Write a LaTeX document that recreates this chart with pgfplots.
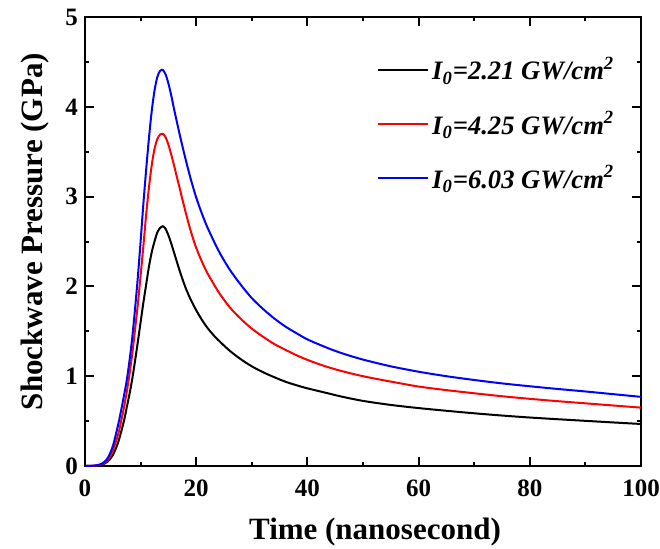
\documentclass[border=0pt]{standalone}
\usepackage{fontspec}
\setmainfont{Liberation Serif}
\usepackage{pgfplots}
\pgfplotsset{compat=1.18}
\begin{document}
\begin{tikzpicture}
\useasboundingbox (-42.5pt,-41pt) rectangle (287.5pt,233pt);
\begin{axis}[
  scale only axis,
  width=278pt, height=224.5pt,
  xmin=0, xmax=100, ymin=0, ymax=5,
  xtick={0,20,...,100}, ytick={0,1,...,5},
  minor x tick num=1, minor y tick num=1,
  tick align=inside, tick pos=both,
  major tick length=4.3pt, minor tick length=2.2pt,
  axis line style={line width=1.1pt},
  every tick/.style={line width=1pt, black},
  /pgf/number format/assume math mode=true,
  tick label style={font=\fontsize{12.5}{15}\selectfont\bfseries},
  xticklabel style={anchor=base, yshift=-15.3pt},
  xlabel={Time (nanosecond)},
  ylabel={Shockwave Pressure (GPa)},
  label style={font=\fontsize{15.5}{18}\selectfont\bfseries},
  xlabel style={at={(axis description cs:0.5216,-0.1626)}, anchor=base},
  ylabel style={at={(axis description cs:-0.0773,0.522)}, anchor=base, rotate=0},
  legend style={at={(axis description cs:0.514,0.927)}, anchor=north west, draw=none, fill=none,
    font=\fontsize{13.3}{16}\selectfont\bfseries\itshape, row sep=11.2pt,
    nodes={inner sep=1.5pt}},
  legend cell align=left,
  legend image code/.code={\draw[#1, line width=1pt] (0pt,0pt) -- (25pt,0pt);},
]
\addplot[black, line width=1pt, smooth] coordinates {
(0,0) (1,0.001) (2,0.004) (3,0.015) (4,0.045) (5,0.12) (6,0.27) (7,0.50) (7.5,0.65) (8,0.80)
(8.5,0.97) (9,1.17) (9.5,1.38) (10,1.60) (10.5,1.82) (11,2.02) (11.5,2.22) (12,2.38) (12.5,2.50)
(13,2.60) (13.5,2.65) (14,2.67) (14.5,2.64) (15,2.57) (15.5,2.48) (16,2.38) (17,2.18) (18,2.00)
(19,1.855) (20,1.735) (21,1.63) (22,1.54) (23,1.465) (24,1.40) (26,1.285) (28,1.19) (30,1.11)
(32,1.045) (34,0.99) (36,0.94) (38,0.90) (40,0.865) (43,0.82) (46,0.775) (50,0.725) (55,0.68)
(60,0.645) (65,0.615) (70,0.587) (75,0.562) (80,0.54) (85,0.521) (90,0.503) (95,0.485) (100,0.468)
};
\addlegendentry{I\textsubscript{0}=2.21 GW/cm\textsuperscript{2}}
\addplot[red, line width=1pt, smooth] coordinates {
(0,0) (1,0.001) (2,0.005) (3,0.02) (4,0.06) (5,0.17) (6,0.36) (6.5,0.50) (7,0.65) (7.5,0.82)
(8,1.02) (8.5,1.25) (9,1.52) (9.5,1.80) (10,2.12) (10.5,2.45) (11,2.80) (11.5,3.10) (12,3.35)
(12.5,3.53) (13,3.64) (13.5,3.69) (14,3.70) (14.5,3.66) (15,3.58) (15.5,3.47) (16,3.35) (17,3.10)
(18,2.85) (19,2.62) (20,2.43) (21,2.28) (22,2.15) (24,1.94) (26,1.77) (28,1.64) (30,1.53) (32,1.44)
(34,1.36) (36,1.295) (38,1.235) (40,1.182) (43,1.115) (46,1.06) (50,1.0) (55,0.94) (60,0.885)
(65,0.845) (70,0.81) (75,0.777) (80,0.748) (85,0.722) (90,0.698) (95,0.674) (100,0.65)
};
\addlegendentry{I\textsubscript{0}=4.25 GW/cm\textsuperscript{2}}
\addplot[blue, line width=1pt, smooth] coordinates {
(0,0) (1,0.002) (2,0.007) (3,0.025) (4,0.08) (5,0.22) (6,0.47) (6.5,0.62) (7,0.78) (7.5,0.95)
(8,1.17) (8.5,1.43) (9,1.75) (9.5,2.10) (10,2.50) (10.5,2.92) (11,3.30) (11.5,3.65) (12,3.95)
(12.5,4.18) (13,4.33) (13.5,4.40) (14,4.41) (14.5,4.36) (15,4.26) (15.5,4.13) (16,3.98) (17,3.70)
(18,3.44) (19,3.20) (20,2.99) (21,2.815) (22,2.66) (24,2.40) (26,2.19) (28,2.02) (30,1.87) (32,1.75)
(34,1.645) (36,1.555) (38,1.48) (40,1.41) (43,1.33) (46,1.26) (50,1.185) (55,1.11) (60,1.05)
(65,1.00) (70,0.958) (75,0.92) (80,0.888) (85,0.858) (90,0.83) (95,0.80) (100,0.77)
};
\addlegendentry{I\textsubscript{0}=6.03 GW/cm\textsuperscript{2}}
\end{axis}
\end{tikzpicture}
\end{document}
